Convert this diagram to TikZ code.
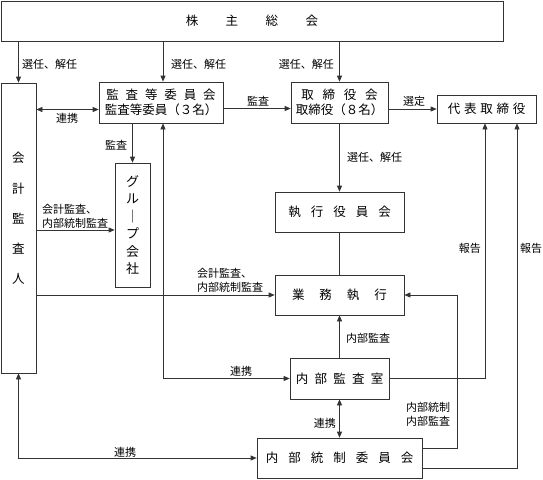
\documentclass[tikz,border=0pt]{standalone}
\usepackage{fontspec}
\setmainfont{Noto Sans CJK JP}
\usetikzlibrary{arrows.meta}
\newcommand{\kgap}[1]{\hspace{#1em}}
\tikzset{
  box/.style={draw=black!80,line width=0.7pt,inner sep=0pt,
    font=\fontsize{12.5}{15}\selectfont},
  lbl/.style={inner sep=1pt,font=\fontsize{11}{14}\selectfont},
  ln/.style={draw=black!80,line width=0.7pt},
  arr/.style={ln,-{Triangle[length=6pt,width=5pt]}},
  arrs/.style={ln,{Triangle[length=6pt,width=5pt]}-{Triangle[length=6pt,width=5pt]}}
}

\begin{document}
\begin{tikzpicture}[x=1pt,y=-1pt]
\useasboundingbox (0,0) rectangle (543,479);
% boxes
\node[box,minimum width=502pt,minimum height=40pt] (kabunushi) at (252,21)
  {株\kgap{2.2}主\kgap{2.2}総\kgap{2.2}会};
\node[box,minimum width=35pt,minimum height=290pt] (kaikei) at (18.5,228) {};
\node[font=\fontsize{12.5}{30.25}\selectfont,align=center,inner sep=0pt]
  (kaikeitxt) at (18.5,218.5) {会\\計\\監\\査\\人};
\node[box,minimum width=124pt,minimum height=41pt,align=center] (kansa) at (161,102.5)
  {監\kgap{0.55}査\kgap{0.55}等\kgap{0.55}委\kgap{0.55}員\kgap{0.55}会\\監査等委員（３名）};
\node[box,minimum width=97pt,minimum height=41pt,align=center] (torishimari) at (339.5,102.5)
  {取\kgap{0.7}締\kgap{0.7}役\kgap{0.7}会\\取締役（８名）};
\node[box,minimum width=99pt,minimum height=28pt] (daihyo) at (486.5,109)
  {代\kgap{0.3}表\kgap{0.3}取\kgap{0.3}締\kgap{0.3}役};
\node[box,minimum width=35pt,minimum height=124pt,align=center,
  font=\fontsize{13}{17.5}\selectfont] (group) at (132.5,225) {グ\\ル\\｜\\プ\\会\\社};
\node[box,minimum width=129pt,minimum height=40pt] (shikko) at (339.5,212)
  {執\kgap{0.8}行\kgap{0.8}役\kgap{0.8}員\kgap{0.8}会};
\node[box,minimum width=129pt,minimum height=40pt] (gyomu) at (339.5,295)
  {業\kgap{1.2}務\kgap{1.2}執\kgap{1.2}行};
\node[box,minimum width=99pt,minimum height=41pt] (naibu) at (339.5,378.5)
  {内\kgap{0.5}部\kgap{0.5}監\kgap{0.5}査\kgap{0.5}室};
\node[box,minimum width=165pt,minimum height=40pt] (tosei) at (339.5,458)
  {内\kgap{0.8}部\kgap{0.8}統\kgap{0.8}制\kgap{0.8}委\kgap{0.8}員\kgap{0.8}会};

% connectors
\coordinate (kt) at ([xshift=2pt]kansa.north);
\coordinate (kb) at ([xshift=2pt]kansa.south);
\coordinate (kin) at ([yshift=-7pt]kansa.west);
\coordinate (gin) at ([yshift=-5pt]group.west);
\draw[arr] (kaikei.north |- kabunushi.south) -- (kaikei.north);
\draw[arr] (kt |- kabunushi.south) -- (kt);
\draw[arr] (torishimari.north |- kabunushi.south) -- (torishimari.north);
\draw[arrs] (kaikei.east |- kin) -- (kin);
\draw[arr] ([yshift=-6pt]kansa.east) -- ([yshift=-6pt]torishimari.west);
\draw[arr] (torishimari.east |- daihyo.west) -- (daihyo.west);
\draw[arr] (group.north |- kansa.south) -- (group.north);
\draw[arr] (kaikei.east |- gin) -- (gin);
\draw[arr] (torishimari.south) -- (shikko.north);
\draw[ln] (shikko.south) -- (gyomu.north);
\draw[arr] (kaikei.east |- gyomu.west) -- (gyomu.west);
\draw[arrs] (kb) |- (naibu.west);
\draw[arr] (naibu.north) -- (gyomu.south);
\draw[arrs] (naibu.south) -- (tosei.north);
\draw[arrs] (kaikei.south) |- (tosei.west);
\draw[arr] (naibu.east) -| ([xshift=-1.5pt]daihyo.south);
\draw[arr] ([yshift=-10pt]tosei.east) -| ([xshift=30.5pt]daihyo.south);
\draw[arr] ([yshift=10pt]tosei.east) -| ([xshift=53pt]gyomu.east) -- (gyomu.east);

% labels
\node[lbl,anchor=west] (l1) at (21,64) {選任、解任};
\node[lbl,anchor=west] (l2) at (170,64) {選任、解任};
\node[lbl,anchor=east] (l3) at (335,64) {選任、解任};
\node[lbl] (l4) at (67,118) {連携};
\node[lbl] (l5) at (258,101) {監査};
\node[lbl] (l6) at (414,101) {選定};
\node[lbl] (l7) at (116,145) {監査};
\node[lbl,anchor=west] (l8) at (346,157) {選任、解任};
\node[lbl,align=left] (l9) at (75,216.5) {会計監査、\\内部統制監査};
\node[lbl,align=left] (l10) at (230,280) {会計監査、\\内部統制監査};
\node[lbl,anchor=east] (l11) at (482,248) {報告};
\node[lbl,anchor=west] (l12) at (519,248) {報告};
\node[lbl,anchor=west] (l13) at (345,338) {内部監査};
\node[lbl] (l14) at (241,371) {連携};
\node[lbl,anchor=east] (l15) at (337,423) {連携};
\node[lbl,align=right] (l16) at (428,414.5) {内部統制\\内部監査};
\node[lbl] (l17) at (125,452) {連携};
\end{tikzpicture}
\end{document}
